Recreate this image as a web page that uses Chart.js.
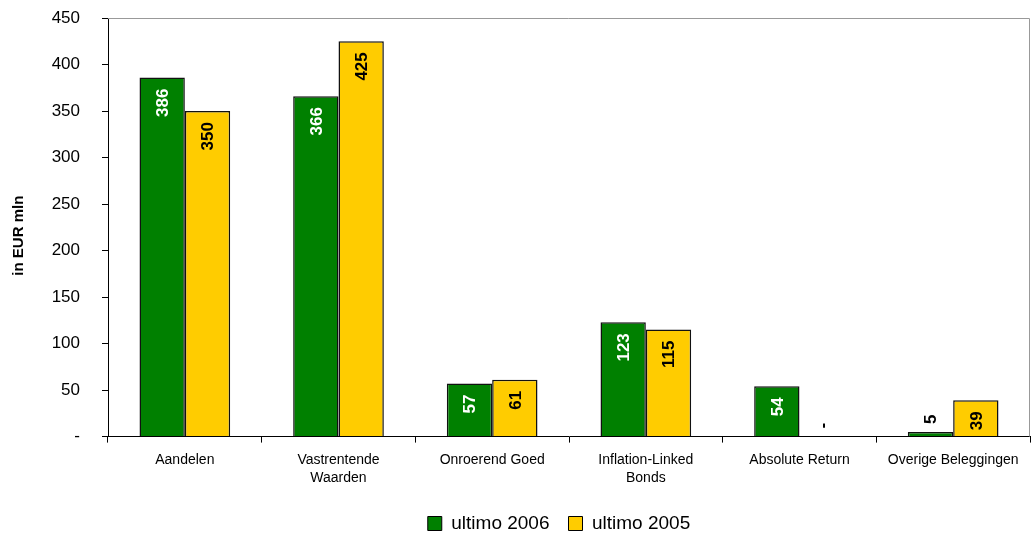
<!DOCTYPE html>
<html>
<head>
<meta charset="utf-8">
<script src="https://cdn.jsdelivr.net/npm/chart.js@4/dist/chart.umd.min.js"></script>
<style>
  html, body { margin: 0; padding: 0; background: #fff; }
  #wrap { width: 1034px; height: 538px; }
</style>
</head>
<body>
<div id="wrap"><canvas id="c" width="1034" height="538"></canvas></div>
<script>
const categories = [
  'Aandelen',
  ['Vastrentende', 'Waarden'],
  'Onroerend Goed',
  ['Inflation-Linked', 'Bonds'],
  'Absolute Return',
  'Overige Beleggingen'
]
const ultimo2006 = [386, 366, 57, 123, 54, 5]
const ultimo2005 = [350, 425, 61, 115, 0, 39]
const yTicks = [0, 50, 100, 150, 200, 250, 300, 350, 400, 450]

const font = 'Liberation Sans, Arial, sans-serif'

// value labels, rotated, inside the top of the bar (or above it if it does not fit)
const barLabels = {
  id: 'barLabels',
  afterDatasetsDraw(chart) {
    const ctx = chart.ctx
    ctx.save()
    ctx.font = 'bold 17px ' + font
    chart.data.datasets.forEach((ds, i) => {
      chart.getDatasetMeta(i).data.forEach((bar, j) => {
        const v = ds.data[j]
        const txt = v === 0 ? '-' : String(v)
        const w = ctx.measureText(txt).width
        const h = bar.base - bar.y
        let inside = h > w + 14
        ctx.save()
        ctx.translate(bar.x, bar.y)
        ctx.rotate(-Math.PI / 2)
        ctx.textBaseline = 'middle'
        if (inside) {
          ctx.textAlign = 'right'
          ctx.fillStyle = ds.labelColor
          ctx.fillText(txt, -11, 1)
        } else {
          ctx.textAlign = 'left'
          ctx.fillStyle = '#000'
          ctx.fillText(txt, 8, 1)
        }
        ctx.restore()
      })
    })
    ctx.restore()
  }
}

// thin gray frame on top and right of the plot area
const frame = {
  id: 'frame',
  beforeDatasetsDraw(chart) {
    const a = chart.chartArea, ctx = chart.ctx
    ctx.save()
    ctx.strokeStyle = '#999'
    ctx.lineWidth = 1
    ctx.beginPath()
    ctx.moveTo(a.left, a.top + 0.5)
    ctx.lineTo(a.right - 0.5, a.top + 0.5)
    ctx.lineTo(a.right - 0.5, a.bottom)
    ctx.stroke()
    ctx.restore()
  }
}

// legend sits centred under the plot area, not the canvas
const legendShift = {
  id: 'legendShift',
  afterLayout(chart) {
    const lg = chart.legend
    const a = chart.chartArea
    const dx = (a.left + a.right) / 2 - (lg.left + lg.right) / 2 - 10
    lg.left += dx
    lg.right += dx
  }
}

Chart.defaults.font.family = font
Chart.defaults.color = '#000'

new Chart(document.getElementById('c'), {
  type: 'bar',
  data: {
    labels: categories,
    datasets: [{
      label: 'ultimo 2006',
      data: ultimo2006,
      backgroundColor: '#008000',
      borderColor: '#111',
      borderWidth: 1.5,
      labelColor: '#fff',
      categoryPercentage: 0.59,
      barPercentage: 1
    }, {
      label: 'ultimo 2005',
      data: ultimo2005,
      backgroundColor: '#FFCC00',
      borderColor: '#111',
      borderWidth: 1.5,
      labelColor: '#000',
      categoryPercentage: 0.59,
      barPercentage: 1
    }]
  },
  options: {
    responsive: false,
    animation: false,
    layout: { padding: { top: 0, right: 4, left: 6, bottom: -5 } },
    plugins: {
      legend: {
        position: 'bottom',
        labels: {
          font: { size: 19 },
          color: '#000',
          boxWidth: 14,
          boxHeight: 14,
          padding: 19,
          generateLabels(chart) {
            return chart.data.datasets.map((ds, i) => ({
              text: ds.label,
              fillStyle: ds.backgroundColor,
              strokeStyle: '#000',
              lineWidth: 1,
              datasetIndex: i
            }))
          }
        }
      },
      tooltip: { enabled: false }
    },
    scales: {
      x: {
        offset: true,
        grid: {
          offset: true,
          drawOnChartArea: false,
          tickLength: 6,
          color: '#000'
        },
        border: { color: '#000', width: 1 },
        ticks: { font: { size: 14, lineHeight: 1.3 }, color: '#000', maxRotation: 0, autoSkip: false, padding: 8 }
      },
      y: {
        min: 0,
        max: 450,
        afterBuildTicks(scale) {
          scale.ticks = yTicks.map(v => ({ value: v }))
        },
        afterFit(scale) {
          scale.width = 102
          scale.paddingTop = 18
        },
        grid: {
          drawOnChartArea: false,
          tickLength: 6,
          color: '#000'
        },
        border: { color: '#000', width: 1 },
        ticks: {
          font: { size: 17 },
          color: '#000',
          padding: 22,
          callback: v => v === 0 ? '-' : v
        },
        title: {
          display: true,
          text: 'in EUR mln\u00a0\u00a0\u00a0\u00a0',
          font: { size: 15, weight: 'bold' },
          color: '#000'
        }
      }
    }
  },
  plugins: [frame, barLabels, legendShift]
})
</script>
</body>
</html>
